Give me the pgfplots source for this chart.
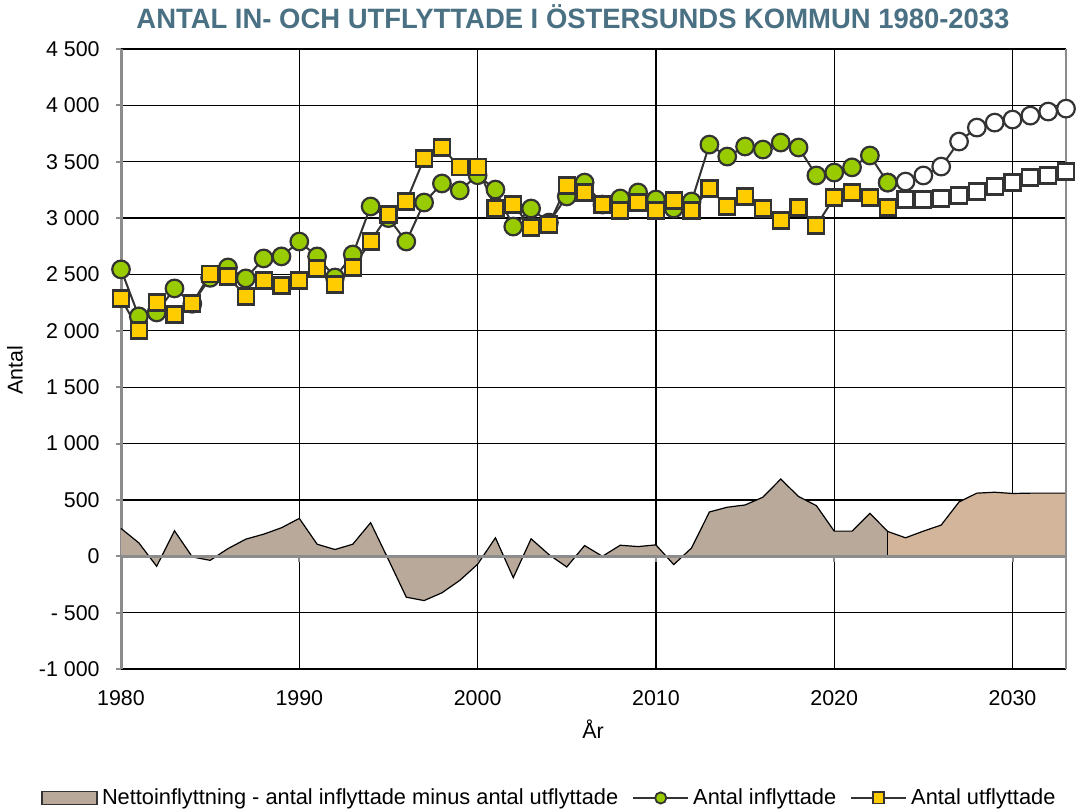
\documentclass[border=0pt]{standalone}
\usepackage{pgfplots}
\pgfplotsset{compat=1.18}
\usepackage{pgfplotstable}
\usepackage{fontspec}
\setmainfont{Liberation Sans}
\newfontfamily\titlefont[FakeStretch=0.98]{Liberation Sans}

\definecolor{ingreen}{HTML}{99CC00}
\definecolor{utyellow}{HTML}{FFCC00}
\definecolor{edge}{HTML}{333333}
\definecolor{netfill}{HTML}{B9A99A}
\definecolor{progfill}{HTML}{D2B59B}
\definecolor{titleblue}{HTML}{4A7083}
\definecolor{axgray}{HTML}{8C8C8C}

% utfall 1980-2023
\pgfplotstableread{
ar   infl  utfl
1980 2545 2287
1981 2128 2003
1982 2163 2252
1983 2376 2145
1984 2240 2243
1985 2470 2505
1986 2562 2482
1987 2465 2305
1988 2642 2447
1989 2660 2402
1990 2792 2447
1991 2660 2553
1992 2473 2411
1993 2677 2562
1994 3103 2793
1995 3000 3032
1996 2792 3147
1997 3138 3528
1998 3307 3626
1999 3245 3450
2000 3380 3450
2001 3253 3085
2002 2925 3120
2003 3085 2916
2004 2960 2943
2005 3192 3289
2006 3315 3227
2007 3120 3120
2008 3174 3067
2009 3227 3138
2010 3165 3067
2011 3085 3156
2012 3147 3067
2013 3652 3262
2014 3546 3103
2015 3635 3191
2016 3608 3085
2017 3670 2979
2018 3626 3094
2019 3378 2934
2020 3404 3182
2021 3450 3227
2022 3555 3182
2023 3315 3094
}\utfall

% prognos 2023-2033
\pgfplotstableread{
ar   infl  utfl
2023 3315 3094
2024 3324 3165
2025 3378 3165
2026 3457 3174
2027 3679 3200
2028 3803 3236
2029 3847 3280
2030 3874 3315
2031 3909 3360
2032 3945 3378
2033 3971 3413
}\prognos

% nettoinflyttning
\pgfplotstableread{
ar   netto
1980 247
1981 119
1982 -89
1983 226
1984 -6
1985 -36
1986 68
1987 152
1988 196
1989 253
1990 336
1991 107
1992 60
1993 107
1994 298
1995 -30
1996 -363
1997 -393
1998 -324
1999 -214
2000 -71
2001 164
2002 -190
2003 155
2004 15
2005 -95
2006 95
2007 0
2008 98
2009 86
2010 101
2011 -74
2012 74
2013 393
2014 435
2015 455
2016 524
2017 685
2018 530
2019 449
2020 223
2021 223
2022 381
2023 220
}\netto

\pgfplotstableread{
ar   netto
2023 220
2024 164
2025 223
2026 277
2027 482
2028 560
2029 568
2030 557
2031 560
2032 560
2033 560
}\nettoprognos

\begin{document}
\begin{tikzpicture}
\begin{axis}[
    scale only axis,
    width=472.5pt, height=310pt,
    xmin=1980, xmax=2033,
    ymin=-1000, ymax=4500,
    clip=false,
    axis line style={draw=none},
    xtick={1980,1990,2000,2010,2020,2030},
    xticklabels={1980,1990,2000,2010,2020,2030},
    ytick={-1000,-500,0,500,1000,1500,2000,2500,3000,3500,4000,4500},
    yticklabels={-1 000,- 500,0,500,1 000,1 500,2 000,2 500,3 000,3 500,4 000,4 500},
    xtick style={draw=none},
    ytick pos=left,
    tick align=outside,
    major tick length=2.5pt,
    ytick style={axgray, line width=1pt},
    grid=major,
    major grid style={black, line width=0.6pt},
    tick label style={font=\fontsize{10.7}{12}\selectfont},
    xticklabel style={anchor=north, inner sep=0pt, yshift=-8pt},
    yticklabel style={anchor=east, inner sep=0pt, xshift=-8pt},
    legend columns=-1,
    legend style={at={(-0.091,-0.208)}, anchor=west, draw=none, fill=none,
        font=\fontsize{10.9}{12}\selectfont,
        /tikz/every even column/.append style={column sep=5pt}},
]
% vänster axel
\draw[axgray, line width=1.5pt] (axis cs:1980,-1000) -- (axis cs:1980,4500);

% nettoinflyttning, utfall och prognos
\addplot[fill=netfill, draw=none, forget plot] table[x=ar, y=netto] {\netto} \closedcycle;
\addplot[fill=progfill, draw=none, forget plot] table[x=ar, y=netto] {\nettoprognos} \closedcycle;
\addplot[black, line width=0.6pt, forget plot] table[x=ar, y=netto] {\netto};
\addplot[black, line width=0.6pt, forget plot] table[x=ar, y=netto] {\nettoprognos};
\addplot[black, line width=0.6pt, forget plot] coordinates {(2023,0) (2023,220)};

% nollinje med streck
\draw[axgray, line width=1.5pt] (axis cs:1980,0) -- (axis cs:2033,0);
\pgfplotsinvokeforeach{1990,2000,2010,2020,2030}{
  \draw[axgray, line width=1pt] (axis cs:#1,0) -- ++(0pt,-3pt);
}
\draw[axgray, line width=1pt] (axis cs:2033,-1000) -- (axis cs:2033,4500);

% prognoser (vita markörer)
\addplot[edge, line width=1pt, mark=*, mark size=4.4pt,
    mark options={fill=white, draw=edge, line width=1.1pt}, forget plot]
    table[x=ar, y=infl] {\prognos};
\addplot[edge, line width=1pt, mark=square*, mark size=4pt,
    mark options={fill=white, draw=edge, line width=1.1pt}, forget plot]
    table[x=ar, y=utfl] {\prognos};

% utfall
\addplot[edge, line width=1pt, mark=*, mark size=4.4pt,
    mark options={fill=ingreen, draw=edge, line width=1.1pt}, forget plot]
    table[x=ar, y=infl] {\utfall};
\addplot[edge, line width=1pt, mark=square*, mark size=4pt,
    mark options={fill=utyellow, draw=edge, line width=1.1pt}, forget plot]
    table[x=ar, y=utfl] {\utfall};

% legend
\addlegendimage{legend image code/.code={
    \draw[fill=netfill, draw=edge, line width=0.8pt] (0pt,-3.25pt) rectangle (27.5pt,3.25pt);}}
\addlegendentry{Nettoinflyttning - antal inflyttade minus antal utflyttade}
\addlegendimage{edge, line width=1pt, mark=*, mark size=2.8pt,
    mark options={fill=ingreen, draw=edge, line width=0.9pt},
    legend image code/.code={
    \draw[mark repeat=2, mark phase=2] plot coordinates {(0pt,0pt) (13.75pt,0pt) (27.5pt,0pt)};}}
\addlegendentry{Antal inflyttade}
\addlegendimage{edge, line width=1pt, mark=square*, mark size=2.8pt,
    mark options={fill=utyellow, draw=edge, line width=0.9pt},
    legend image code/.code={
    \draw[mark repeat=2, mark phase=2] plot coordinates {(0pt,0pt) (13.75pt,0pt) (27.5pt,0pt)};}}
\addlegendentry{Antal utflyttade}
\end{axis}

\node[anchor=center, text=titleblue] at ([xshift=226pt, yshift=16pt]current axis.north west)
    {\titlefont\bfseries\fontsize{14}{16}\selectfont ANTAL IN- OCH UTFLYTTADE I ÖSTERSUNDS KOMMUN 1980-2033};
\node[anchor=center, rotate=90, font=\fontsize{10.7}{12}\selectfont]
    at ([xshift=-53pt, yshift=149.5pt]current axis.south west) {Antal};
\node[anchor=center, font=\fontsize{10.7}{12}\selectfont]
    at ([xshift=236pt, yshift=-30pt]current axis.south west) {År};

\pgfresetboundingbox
\path[use as bounding box] ([xshift=-60.5pt, yshift=-71pt]current axis.south west)
    rectangle ([xshift=5pt, yshift=24.5pt]current axis.north east);
\end{tikzpicture}
\end{document}
